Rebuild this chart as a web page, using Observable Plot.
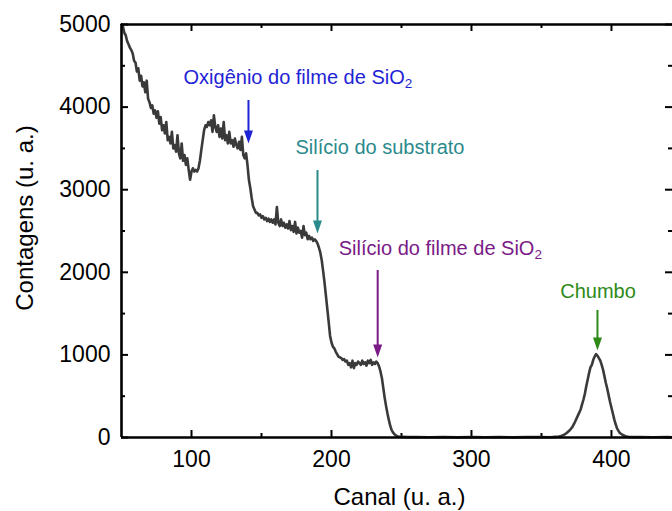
<!DOCTYPE html>
<html><head><meta charset="utf-8">
<script src="https://cdn.jsdelivr.net/npm/d3@7"></script>
<script src="https://cdn.jsdelivr.net/npm/@observablehq/plot@0.6"></script>
<style>html,body{margin:0;padding:0;background:#fff;overflow:hidden}</style>
</head><body><div id="chart"></div>
<script>
// ---- data ----
const canal = [
  50,51,52,53,54,55,56,57,58,59,
  60,61,62,63,64,65,66,67,68,69,
  70,71,72,73,74,75,76,77,78,79,
  80,81,82,83,84,85,86,87,88,89,
  90,91,92,93,94,95,96,97,98,99,
  100,101,102,103,104,105,106,107,108,109,
  110,111,112,113,114,115,116,117,118,119,
  120,121,122,123,124,125,126,127,128,129,
  130,131,132,133,134,135,136,137,138,139,
  140,141,142,143,144,145,146,147,148,149,
  150,151,152,153,154,155,156,157,158,159,
  160,161,162,163,164,165,166,167,168,169,
  170,171,172,173,174,175,176,177,178,179,
  180,181,182,183,184,185,186,187,188,189,
  190,191,192,193,194,195,196,197,198,199,
  200,201,202,203,204,205,206,207,208,209,
  210,211,212,213,214,215,216,217,218,219,
  220,221,222,223,224,225,226,227,228,229,
  230,231,232,233,234,235,236,237,238,239,
  240,241,242,243,244,245,246,247,248,
  250,255,260,270,280,290,300,310,320,330,340,350,356,360,
  362,364,366,368,370,372,374,376,
  378,379,380,381,382,383,384,385,386,387,388,389,390,391,392,
  393,394,395,396,397,398,399,400,401,402,403,404,405,406,
  408,410,412,416,420,430,440,444
];
const contagens = [
  5000,4980,4900,4870,4800,4760,4720,4690,4650,4560,
  4540,4430,4470,4320,4380,4250,4300,4180,4320,4100,
  4060,3990,4020,3920,3960,3870,3950,3800,3880,3720,
  3780,3680,3820,3600,3640,3560,3700,3500,3540,3460,
  3660,3440,3380,3560,3350,3420,3300,3380,3240,3120,
  3220,3260,3220,3240,3220,3260,3350,3480,3600,3720,
  3780,3760,3820,3780,3840,3700,3900,3760,3700,3780,
  3640,3740,3620,3820,3600,3660,3560,3700,3560,3600,
  3520,3620,3540,3500,3580,3480,3640,3420,3380,3440,
  3300,3120,3020,2900,2800,2760,2720,2720,2690,2700,
  2660,2680,2640,2660,2620,2650,2610,2640,2600,2640,
  2580,2790,2600,2560,2640,2560,2600,2540,2580,2530,
  2620,2510,2560,2490,2610,2470,2540,2480,2500,2420,
  2560,2450,2480,2400,2440,2400,2420,2380,2400,2380,
  2350,2300,2240,2150,2020,1880,1720,1560,1400,1230,
  1150,1100,1080,1040,1010,980,970,960,940,950,
  920,930,880,900,850,930,840,900,880,920,
  900,880,930,890,910,870,930,900,940,880,
  910,890,920,900,860,800,720,600,480,380,
  290,210,140,90,60,40,25,15,10,
  8,4,6,3,5,2,4,3,5,2,4,6,3,8,
  10,18,32,55,85,125,190,265,
  340,400,460,530,620,700,780,850,880,940,980,1010,990,960,930,
  880,820,740,660,590,510,430,360,290,220,160,110,80,55,
  30,15,8,4,5,3,4,2
];
const xDomain = [50, 443.6];
const yDomain = [0, 5000];
const xTicks = [100, 200, 300, 400];
const xMinorTicks = [150, 250, 350];
const yTicks = [0, 1000, 2000, 3000, 4000, 5000];
const yMinorTicks = [500, 1500, 2500, 3500, 4500];
const xLabel = "Canal (u. a.)";
const yLabel = "Contagens (u. a.)";

// annotations
const annotLabels = ["Oxigênio do filme de SiO2", "Silício do substrato", "Silício do filme de SiO2", "Chumbo"];
const annotCanal = [140.7, 190, 233, 390];
const annotTop = [4080, 3232, 2022, 1538];
const annotTip = [3559, 2470, 969, 1053];
const annotTextCanal = [94.3, 174.3, 205.2, 390.4];
const annotTextY = [4363, 3504, 2293, 1772];
const annotAnchor = ["start", "start", "start", "middle"];
const annotColors = ["#1f23d6", "#2b8a8c", "#7a1b86", "#2e8a18"];

// ---- layout ----
const W = 672, H = 511, mL = 121, mR = 0, mT = 24, mB = 74;
const plotW = W - mL - mR, plotH = H - mT - mB;
const majorLen = 7, minorLen = 4;
const axisColor = "#000";
const font = "'Liberation Sans', Arial, Helvetica, sans-serif";

const spectrum = canal.map((c, i) => ({canal: c, contagens: contagens[i]}));

const headSymbol = {
  draw(ctx) { ctx.moveTo(0, 0); ctx.lineTo(-4.5, -13); ctx.lineTo(4.5, -13); ctx.closePath(); }
};

const marks = [];
const tickStyle = {stroke: axisColor, strokeWidth: 2};
marks.push(Plot.tickX(xTicks, {x: d => d, insetTop: plotH - majorLen, ...tickStyle}));
marks.push(Plot.tickX(xMinorTicks, {x: d => d, insetTop: plotH - minorLen, ...tickStyle}));
marks.push(Plot.tickX(xTicks, {x: d => d, insetBottom: plotH - majorLen, ...tickStyle}));
marks.push(Plot.tickX(xMinorTicks, {x: d => d, insetBottom: plotH - minorLen, ...tickStyle}));
marks.push(Plot.tickY(yTicks, {y: d => d, insetRight: plotW - majorLen, ...tickStyle}));
marks.push(Plot.tickY(yMinorTicks, {y: d => d, insetRight: plotW - minorLen, ...tickStyle}));
marks.push(Plot.tickY(yTicks, {y: d => d, insetLeft: plotW - majorLen, ...tickStyle}));
marks.push(Plot.tickY(yMinorTicks, {y: d => d, insetLeft: plotW - minorLen, ...tickStyle}));

// spectrum
marks.push(Plot.line(spectrum, {x: "canal", y: "contagens", stroke: "#3a3a3a", strokeWidth: 2.6, strokeLinejoin: "round"}));

// frame lines (left, bottom, top)
marks.push(Plot.ruleX([xDomain[0]], {stroke: axisColor, strokeWidth: 2.6}));
marks.push(Plot.ruleY([yDomain[0]], {stroke: axisColor, strokeWidth: 2.6}));
marks.push(Plot.ruleY([yDomain[1]], {stroke: axisColor, strokeWidth: 2.6}));

// axes
marks.push(Plot.axisX({ticks: xTicks, tickSize: 0, tickPadding: 13, tickFormat: d3.format("d"), label: null}));
marks.push(Plot.axisY({ticks: yTicks, tickSize: 0, tickPadding: 11, tickFormat: d3.format("d"), label: null}));
marks.push(Plot.text([xLabel], {frameAnchor: "bottom", text: d => d, dy: 59.5, dx: 2.5, textAnchor: "middle", lineAnchor: "middle", fontSize: 24, fill: axisColor}));
marks.push(Plot.text([yLabel], {frameAnchor: "left", text: d => d, rotate: -90, dx: -96, dy: -13, textAnchor: "middle", lineAnchor: "middle", fontSize: 24, fill: axisColor}));

// annotations
annotLabels.forEach((label, i) => {
  const d = [{label, canal: annotCanal[i], top: annotTop[i], tip: annotTip[i], tx: annotTextCanal[i], ty: annotTextY[i]}];
  const color = annotColors[i];
  marks.push(Plot.text(d, {x: "tx", y: "ty", text: "label", textAnchor: annotAnchor[i], lineAnchor: "middle", fontSize: 20, fill: color}));
  marks.push(Plot.ruleX(d, {x: "canal", y1: "top", y2: "tip", stroke: color, strokeWidth: 2, insetBottom: 8}));
  marks.push(Plot.dot(d, {x: "canal", y: "tip", symbol: headSymbol, fill: color, stroke: "none"}));
});

const svg = Plot.plot({
  width: W, height: H,
  marginLeft: mL, marginRight: mR, marginTop: mT, marginBottom: mB,
  x: {domain: xDomain},
  y: {domain: yDomain},
  style: {fontFamily: font, fontSize: "23px", color: axisColor, background: "#fff", overflow: "visible"},
  marks
});

// subscript "2" in SiO2
d3.select(svg).selectAll("text").each(function () {
  const t = this.textContent;
  if (t.endsWith("SiO2") && this.childElementCount === 0) {
    this.textContent = t.slice(0, -1);
    d3.select(this).append("tspan").attr("dy", "0.3em").attr("font-size", "0.68em").text("2");
  }
});

document.getElementById("chart").appendChild(svg);
</script>
</body></html>
